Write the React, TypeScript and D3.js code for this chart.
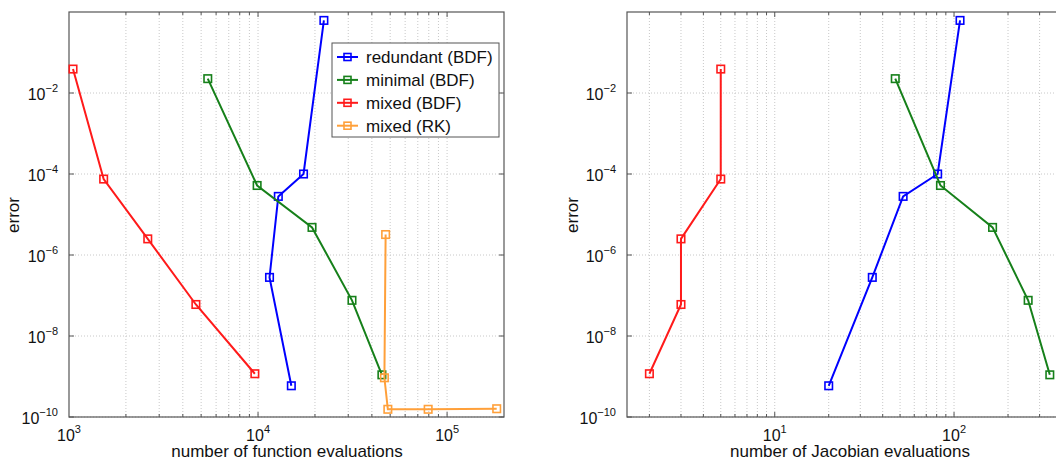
import React from 'react';
import * as d3 from 'd3';

// values (log-log)
const funcRedundant = [22300, 17400, 12800, 11500, 15000];
const errRedundant = [0.62, 1.0e-4, 2.8e-5, 2.8e-7, 5.9e-10];
const funcMinimal = [5420, 9890, 19300, 31400, 45200];
const errMinimal = [2.26e-2, 5.2e-5, 4.8e-6, 7.6e-8, 1.1e-9];
const funcMixedBDF = [1050, 1525, 2610, 4690, 9620];
const errMixedBDF = [3.9e-2, 7.5e-5, 2.5e-6, 6.0e-8, 1.17e-9];
const funcMixedRK = [47300, 46600, 48600, 79400, 183000];
const errMixedRK = [3.2e-6, 9.3e-10, 1.55e-10, 1.55e-10, 1.6e-10];

const jacRedundant = [108, 81, 52, 35, 20];
const jacMinimal = [47, 84, 164, 259, 342];
const jacMixedBDF = [5, 5, 3, 3, 2];

const seriesNames = ['redundant (BDF)', 'minimal (BDF)', 'mixed (BDF)', 'mixed (RK)'];
const seriesColors = ['#0000ff', '#16801a', '#ff1a1a', '#ffa03a'];
const yTickExps = [-10, -8, -6, -4, -2];

const FONT = '"Liberation Sans", Arial, Helvetica, sans-serif';

type Series = { name: string; color: string; x: number[]; y: number[] };

const Panel = ({
  xDomain,
  xRange,
  xTickExps,
  xLabel,
  xLabelX,
  yLabelX,
  series,
  legend = false,
}: {
  xDomain: [number, number];
  xRange: [number, number];
  xTickExps: number[];
  xLabel: string;
  xLabelX: number;
  yLabelX: number;
  series: Series[];
  legend?: boolean;
}) => {
  const top = 12;
  const bottom = 417;
  const x = d3.scaleLog().domain(xDomain).range(xRange);
  const y = d3.scaleLog().domain([1e-10, 1]).range([bottom, top]);
  const [x0, x1] = xRange;

  // minor grid positions (2..9 x 10^k) inside domain
  const gridX: number[] = [];
  for (let e = Math.floor(Math.log10(xDomain[0])); e <= Math.ceil(Math.log10(xDomain[1])); e++) {
    for (let m = 1; m <= 9; m++) {
      const v = m * Math.pow(10, e);
      if (v > xDomain[0] * 1.0001 && v < xDomain[1] * 0.9999) gridX.push(v);
    }
  }

  const line = d3
    .line<[number, number]>()
    .x((d) => x(d[0]))
    .y((d) => y(d[1]));

  const ms = 7.5;

  return (
    <g fontFamily={FONT}>
      {/* grid */}
      {gridX.map((v, i) => (
        <line key={'gx' + i} x1={x(v)} x2={x(v)} y1={top} y2={bottom}
          stroke="#c8c8c8" strokeWidth={1} strokeDasharray="1,2" />
      ))}
      {yTickExps.map((e) => (
        <line key={'gy' + e} x1={x0} x2={x1} y1={y(Math.pow(10, e))} y2={y(Math.pow(10, e))}
          stroke="#c8c8c8" strokeWidth={1} strokeDasharray="1,2" />
      ))}

      {/* frame ticks */}
      {gridX.map((v, i) => {
        const major = Number.isInteger(Math.log10(v)) ;
        const len = major ? 5 : 3;
        return (
          <g key={'tx' + i} stroke="#555" strokeWidth={1}>
            <line x1={x(v)} x2={x(v)} y1={bottom} y2={bottom - len} />
            <line x1={x(v)} x2={x(v)} y1={top} y2={top + len} />
          </g>
        );
      })}
      {yTickExps.map((e) => (
        <g key={'ty' + e} stroke="#555" strokeWidth={1}>
          <line x1={x0} x2={x0 + 5} y1={y(Math.pow(10, e))} y2={y(Math.pow(10, e))} />
          <line x1={x1} x2={x1 - 5} y1={y(Math.pow(10, e))} y2={y(Math.pow(10, e))} />
        </g>
      ))}
      <rect x={x0} y={top} width={x1 - x0} height={bottom - top} fill="none" stroke="#555" strokeWidth={1.2} />

      {/* series */}
      {series.map((s) => {
        const pts = s.x.map((v, i) => [v, s.y[i]] as [number, number]);
        return (
          <g key={s.name}>
            <path d={line(pts) || ''} fill="none" stroke={s.color} strokeWidth={2} />
            {pts.map((p, i) => (
              <rect key={i} x={x(p[0]) - ms / 2} y={y(p[1]) - ms / 2} width={ms} height={ms}
                fill="none" stroke={s.color} strokeWidth={1.6} />
            ))}
          </g>
        );
      })}

      {/* tick labels */}
      {xTickExps.map((e) => (
        <text key={'lx' + e} x={x(Math.pow(10, e))} y={441} textAnchor="middle" fontSize={16} fill="#111">
          <tspan>10</tspan>
          <tspan dy={-8} fontSize={11}>{e}</tspan>
        </text>
      ))}
      {yTickExps.map((e) => (
        <text key={'ly' + e} x={x0 - 11} y={y(Math.pow(10, e)) + 7} textAnchor="end" fontSize={16} fill="#111">
          <tspan>10</tspan>
          <tspan dy={-8} fontSize={11}>{'\u2212' + Math.abs(e)}</tspan>
        </text>
      ))}

      {/* axis labels */}
      <text x={xLabelX} y={457} textAnchor="middle" fontSize={17} fill="#111">{xLabel}</text>
      <text transform={`translate(${yLabelX},215) rotate(-90)`} textAnchor="middle" fontSize={17} fill="#111">
        error
      </text>

      {legend && (
        <g>
          <rect x={332} y={43} width={167} height={94} fill="#fff" stroke="#555" strokeWidth={1} />
          {series.map((s, i) => {
            const ly = 57 + i * 22.9;
            return (
              <g key={'lg' + i}>
                <line x1={337} x2={358} y1={ly} y2={ly} stroke={s.color} strokeWidth={2} />
                <rect x={347.5 - 3.5} y={ly - 3.5} width={7} height={7} fill="none" stroke={s.color} strokeWidth={1.6} />
                <text x={366} y={ly + 6} fontSize={17} fill="#111">{s.name}</text>
              </g>
            );
          })}
        </g>
      )}
    </g>
  );
};

export default function App() {
  const leftSeries: Series[] = [
    { name: seriesNames[0], color: seriesColors[0], x: funcRedundant, y: errRedundant },
    { name: seriesNames[1], color: seriesColors[1], x: funcMinimal, y: errMinimal },
    { name: seriesNames[2], color: seriesColors[2], x: funcMixedBDF, y: errMixedBDF },
    { name: seriesNames[3], color: seriesColors[3], x: funcMixedRK, y: errMixedRK },
  ];
  const rightSeries: Series[] = [
    { name: seriesNames[0], color: seriesColors[0], x: jacRedundant, y: errRedundant },
    { name: seriesNames[1], color: seriesColors[1], x: jacMinimal, y: errMinimal },
    { name: seriesNames[2], color: seriesColors[2], x: jacMixedBDF, y: errMixedBDF },
  ];

  return (
    <svg width={1056} height={460} style={{ position: 'absolute', left: 0, top: 0, background: '#fff' }}>
      <Panel
        xDomain={[1e3, 2e5]}
        xRange={[69, 504]}
        xTickExps={[3, 4, 5]}
        xLabel="number of function evaluations"
        xLabelX={287}
        yLabelX={19}
        series={leftSeries}
        legend
      />
      <Panel
        xDomain={[1.5, 400]}
        xRange={[627, 1062]}
        xTickExps={[1, 2]}
        xLabel="number of Jacobian evaluations"
        xLabelX={850}
        yLabelX={578}
        series={rightSeries}
      />
    </svg>
  );
}
